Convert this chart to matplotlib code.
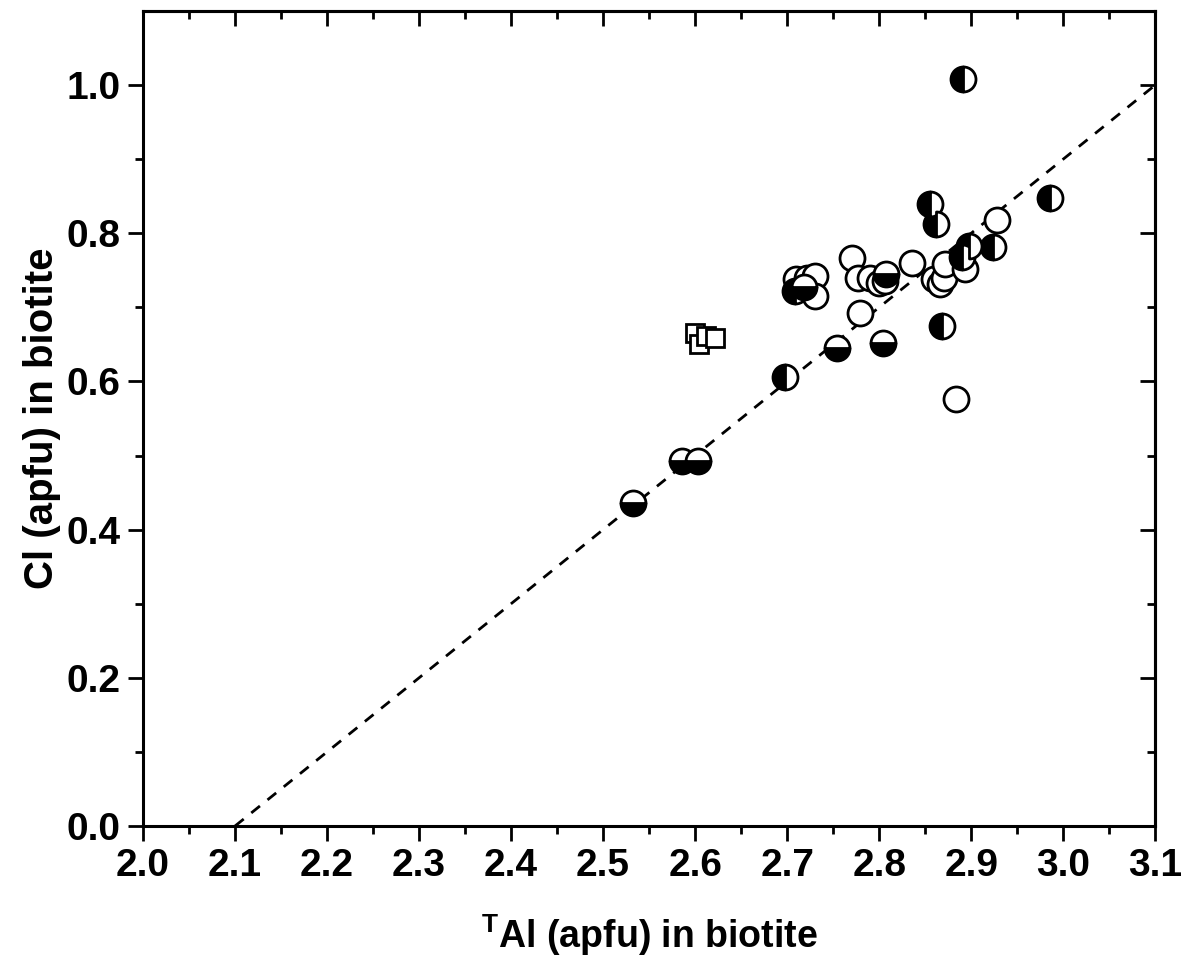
import matplotlib
matplotlib.use("Agg")
import matplotlib.pyplot as plt
import numpy as np

plt.rcParams['font.family'] = ['Liberation Sans', 'DejaVu Sans']
plt.rcParams['font.weight'] = 'bold'
plt.rcParams['mathtext.fontset'] = 'custom'
plt.rcParams['mathtext.rm'] = 'Liberation Sans:bold'
plt.rcParams['mathtext.bf'] = 'Liberation Sans:bold'

# open circles
open_x = [2.710, 2.722, 2.730, 2.730, 2.771, 2.777, 2.790, 2.800, 2.806, 2.779,
          2.836, 2.860, 2.866, 2.870, 2.872, 2.893, 2.928, 2.883]
open_y = [0.738, 0.740, 0.742, 0.716, 0.766, 0.739, 0.739, 0.733, 0.736, 0.692,
          0.760, 0.738, 0.731, 0.740, 0.758, 0.752, 0.818, 0.576]

# left half filled
left_x = [2.891, 2.855, 2.862, 2.868, 2.890, 2.898, 2.924, 2.986, 2.698, 2.708]
left_y = [1.008, 0.840, 0.813, 0.675, 0.768, 0.783, 0.781, 0.847, 0.606, 0.722]

# bottom half filled
bot_x = [2.533, 2.586, 2.603, 2.754, 2.804, 2.807, 2.718]
bot_y = [0.436, 0.493, 0.493, 0.645, 0.652, 0.745, 0.728]

# open squares
sq_x = [2.600, 2.604, 2.612, 2.622]
sq_y = [0.665, 0.650, 0.662, 0.659]

# 1:1 reference line
line_x = [2.1, 3.1]
line_y = [0.0, 1.0]

fig = plt.figure(figsize=(11.88, 9.72), dpi=100)
ax = fig.add_axes([0.1204, 0.1502, 0.852, 0.8385])

ax.plot(line_x, line_y, color='black', lw=2, ls=(0, (4, 3.5)), zorder=1)

ms = 18
mew = 2
ax.plot(open_x, open_y, 'o', ms=ms, mfc='white', mec='black', mew=mew, zorder=3)
ax.plot(left_x, left_y, 'o', ms=ms, fillstyle='left', mfc='black',
        markerfacecoloralt='white', mec='black', mew=mew, zorder=3)
ax.plot(bot_x, bot_y, 'o', ms=ms, fillstyle='bottom', mfc='black',
        markerfacecoloralt='white', mec='black', mew=mew, zorder=3)
ax.plot(sq_x, sq_y, 's', ms=13, mfc='white', mec='black', mew=mew, zorder=3)

ax.set_xlim(2.0, 3.1)
ax.set_ylim(0.0, 1.1)
ax.set_xticks(np.arange(2.0, 3.11, 0.1))
ax.set_yticks([0.0, 0.2, 0.4, 0.6, 0.8, 1.0])
ax.set_xticks(np.arange(2.05, 3.1, 0.1), minor=True)
ax.set_yticks(np.arange(0.1, 1.1, 0.2), minor=True)
ax.xaxis.set_major_formatter(matplotlib.ticker.FormatStrFormatter('%.1f'))
ax.yaxis.set_major_formatter(matplotlib.ticker.FormatStrFormatter('%.1f'))

for s in ax.spines.values():
    s.set_linewidth(2.2)

ax.tick_params(which='major', direction='out', length=11, width=2, labelsize=28, pad=5)
ax.tick_params(which='minor', direction='out', length=6, width=2)

# inward ticks on top and right
axt = ax.secondary_xaxis('top')
axt.set_xticks(np.arange(2.0, 3.11, 0.1))
axt.set_xticks(np.arange(2.05, 3.1, 0.1), minor=True)
axt.tick_params(which='major', direction='in', length=11, width=2, labeltop=False)
axt.tick_params(which='minor', direction='in', length=6, width=2)
axr = ax.secondary_yaxis('right')
axr.set_yticks([0.0, 0.2, 0.4, 0.6, 0.8, 1.0])
axr.set_yticks(np.arange(0.1, 1.1, 0.2), minor=True)
axr.tick_params(which='major', direction='in', length=11, width=2, labelright=False)
axr.tick_params(which='minor', direction='in', length=6, width=2)
axt.spines['top'].set_linewidth(2.2)
axr.spines['right'].set_linewidth(2.2)

for lab in ax.get_xticklabels() + ax.get_yticklabels():
    lab.set_fontweight('bold')

ax.set_xlabel(r'$^{\mathrm{T}}$Al (apfu) in biotite', fontsize=27, fontweight='bold', labelpad=20)
ax.set_ylabel('Cl (apfu) in biotite', fontsize=29, fontweight='bold')
ax.yaxis.set_label_coords(-0.081, 0.5)

fig.savefig('out.png', dpi=100)
